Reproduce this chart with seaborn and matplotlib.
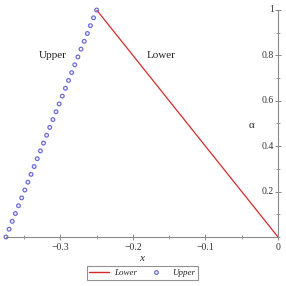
import matplotlib
matplotlib.use("Agg")
import matplotlib.pyplot as plt
import seaborn as sns
import pandas as pd
from matplotlib.lines import Line2D
from matplotlib.ticker import MultipleLocator

sns.set_style("white")
plt.rcParams['font.family'] = ['Liberation Serif', 'DejaVu Serif']

lower_x = [-0.25, 0.0]
lower_alpha = [1.0, 0.0]

upper_alpha = [0.0, 0.0345, 0.0690, 0.1034, 0.1379, 0.1724, 0.2069, 0.2414, 0.2759, 0.3103,
               0.3448, 0.3793, 0.4138, 0.4483, 0.4828, 0.5172, 0.5517, 0.5862, 0.6207, 0.6552,
               0.6897, 0.7241, 0.7586, 0.7931, 0.8276, 0.8621, 0.8966, 0.9310, 0.9655, 1.0]
upper_x = [-0.3750, -0.3707, -0.3664, -0.3621, -0.3578, -0.3534, -0.3491, -0.3448, -0.3405, -0.3362,
           -0.3319, -0.3276, -0.3233, -0.3190, -0.3147, -0.3103, -0.3060, -0.3017, -0.2974, -0.2931,
           -0.2888, -0.2845, -0.2802, -0.2759, -0.2716, -0.2672, -0.2629, -0.2586, -0.2543, -0.2500]

x_ticks = [-0.3, -0.2, -0.1, 0]
x_tick_labels = ["\u22120.3", "\u22120.2", "\u22120.1", "0"]
y_ticks = [0.2, 0.4, 0.6, 0.8, 1]
y_tick_labels = ["0.2", "0.4", "0.6", "0.8", "1"]

red = "#d42a2a"
blue = "#6a6ad8"
axis_gray = "#8a8a8a"
text_col = "#333333"

fig = plt.figure(figsize=(2.86, 2.86), dpi=100)
ax = fig.add_axes([6/286, 49/286, 272/286, 227/286])

df_low = pd.DataFrame({"x": lower_x, "alpha": lower_alpha})
df_up = pd.DataFrame({"x": upper_x, "alpha": upper_alpha})

sns.lineplot(data=df_low, x="x", y="alpha", sort=False, color=red, linewidth=0.9, ax=ax)
sns.scatterplot(data=df_up, x="x", y="alpha", ax=ax, s=7, marker="o",
                facecolors="none", edgecolor=blue, linewidth=0.9, clip_on=False, zorder=5)

ax.set_xlim(-0.375, 0)
ax.set_ylim(0, 1)

ax.spines['top'].set_visible(False)
ax.spines['left'].set_visible(False)
for s in ['right', 'bottom']:
    ax.spines[s].set_visible(True)
    ax.spines[s].set_color(axis_gray)
    ax.spines[s].set_linewidth(0.8)

ax.yaxis.tick_right()
ax.set_xticks(x_ticks)
ax.set_xticklabels(x_tick_labels)
ax.set_yticks(y_ticks)
ax.xaxis.set_minor_locator(MultipleLocator(0.05))
ax.yaxis.set_minor_locator(MultipleLocator(0.1))
ax.tick_params(axis='both', which='major', direction='inout', length=4, width=0.7,
               color=axis_gray, labelsize=7, labelcolor=text_col)
ax.tick_params(axis='both', which='minor', direction='inout', length=2.5, width=0.6,
               color=axis_gray)
ax.tick_params(axis='x', which='both', bottom=True, pad=2)
ax.tick_params(axis='y', which='both', right=True, left=False,
               labelright=False, labelleft=False)
for t, lab in zip(y_ticks, y_tick_labels):
    ax.text(-0.006, t, lab, ha='right', va='center', fontsize=7, color=text_col)

ax.set_xlabel("x", fontstyle='italic', fontsize=8, labelpad=2)
ax.set_ylabel("")

ax.text(-0.310, 0.80, "Upper", ha='center', va='center', fontsize=8, color="#222222")
ax.text(-0.161, 0.80, "Lower", ha='center', va='center', fontsize=8, color="#222222")
ax.text(-0.036, 0.49, "\u03b1", ha='center', va='center', fontsize=8, color="#222222")

handles = [Line2D([0], [0], color=red, linewidth=1.0),
           Line2D([0], [0], color=blue, marker='o', linestyle='none', markersize=2.6,
                  markerfacecolor='none', markeredgewidth=0.9)]
leg = ax.legend(handles, ["Lower", "Upper"], loc='center', bbox_to_anchor=(142/286, 13/286),
                bbox_transform=fig.transFigure, ncol=2, frameon=True, fancybox=False,
                prop={'style': 'italic', 'size': 6.5}, handlelength=2.2, columnspacing=1.0,
                handletextpad=0.6, borderpad=0.3)
leg.get_frame().set_edgecolor("#777777")
leg.get_frame().set_linewidth(0.8)

fig.savefig("out.png", dpi=100)
